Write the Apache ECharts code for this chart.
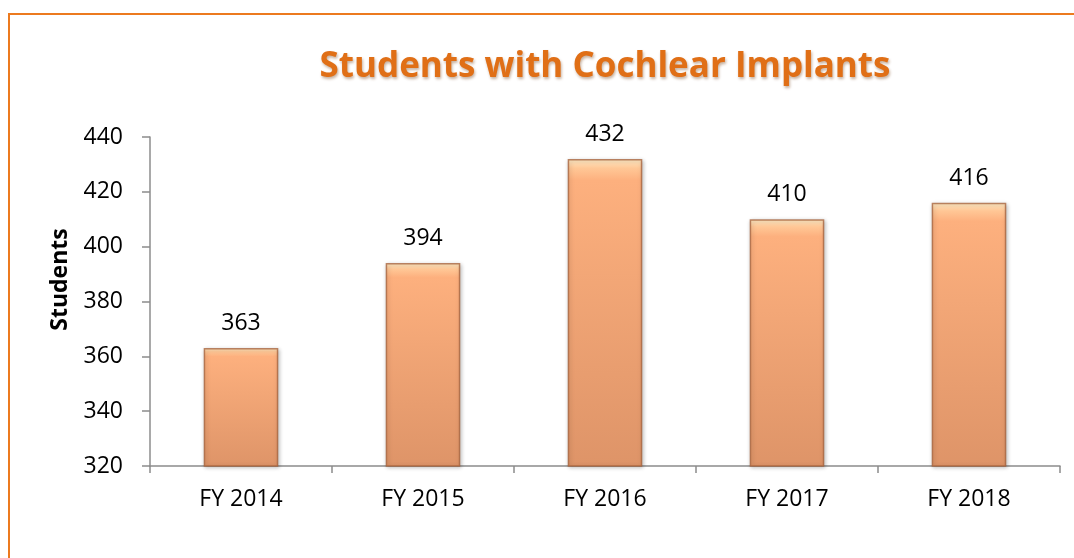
<!DOCTYPE html>
<html>
<head>
<meta charset="utf-8">
<title>Students with Cochlear Implants</title>
<script src="https://cdn.jsdelivr.net/npm/echarts@6/dist/echarts.min.js"></script>
<style>
  html, body { margin: 0; padding: 0; background: #fff; }
  #chart { width: 1074px; height: 558px; }
</style>
</head>
<body>
<div id="chart"></div>
<script>
// data
const years = ['FY 2014', 'FY 2015', 'FY 2016', 'FY 2017', 'FY 2018']
const students = [363, 394, 432, 410, 416]
const yMin = 320
const yMax = 440
const yStep = 20

const chart = echarts.init(document.getElementById('chart'))

// peach bar with a light top bevel
const barFill = new echarts.graphic.LinearGradient(0, 0, 0, 1, [
  { offset: 0, color: '#FFEBC6' },
  { offset: 0.03, color: '#FFC796' },
  { offset: 0.07, color: '#FDB07E' },
  { offset: 1, color: '#DE9468' }
])

const option = {
  animation: false,
  textStyle: { fontFamily: 'Open Sans' },
  title: {
    text: 'Students with Cochlear Implants',
    left: 600,
    textAlign: 'center',
    top: 45,
    textStyle: {
      fontFamily: 'Open Sans',
      fontWeight: 'bold',
      fontSize: 35,
      color: '#E06F16',
      textShadowColor: 'rgba(110, 55, 10, 0.4)',
      textShadowBlur: 3,
      textShadowOffsetX: 1,
      textShadowOffsetY: 2
    }
  },
  graphic: [{
    type: 'rect',
    shape: { x: 9, y: 14, width: 1200, height: 700 },
    style: { fill: 'none', stroke: '#EC7A1F', lineWidth: 2 },
    silent: true
  }],
  grid: { left: 150, right: 14, top: 137, bottom: 92 },
  xAxis: {
    type: 'category',
    data: years,
    axisLine: { lineStyle: { color: '#8C8C8C', width: 1.5 } },
    axisTick: { show: true, alignWithLabel: false, length: 7, lineStyle: { color: '#8C8C8C', width: 1.5 } },
    axisLabel: { color: '#000', fontSize: 23, margin: 22 }
  },
  yAxis: {
    type: 'value',
    min: yMin,
    max: yMax,
    interval: yStep,
    name: 'Students',
    nameLocation: 'middle',
    nameRotate: 90,
    nameGap: 78,
    nameTextStyle: { color: '#000', fontSize: 23, fontWeight: 'bold', padding: [0, 0, 0, 44] },
    splitLine: { show: false },
    axisLine: { show: true, lineStyle: { color: '#8C8C8C', width: 1.5 } },
    axisTick: { show: true, length: 8, lineStyle: { color: '#8C8C8C', width: 1.5 } },
    axisLabel: { color: '#000', fontSize: 23, margin: 27 }
  },
  series: [{
    type: 'bar',
    data: students,
    barWidth: '41%',
    itemStyle: {
      color: barFill,
      borderColor: 'rgba(165, 95, 55, 0.75)',
      borderWidth: 1.5,
      shadowColor: 'rgba(0, 0, 0, 0.25)',
      shadowBlur: 4,
      shadowOffsetX: 1,
      shadowOffsetY: 1
    },
    label: {
      show: true,
      position: 'top',
      distance: 13,
      color: '#000',
      fontSize: 23
    }
  }]
}

chart.setOption(option)
</script>
</body>
</html>
